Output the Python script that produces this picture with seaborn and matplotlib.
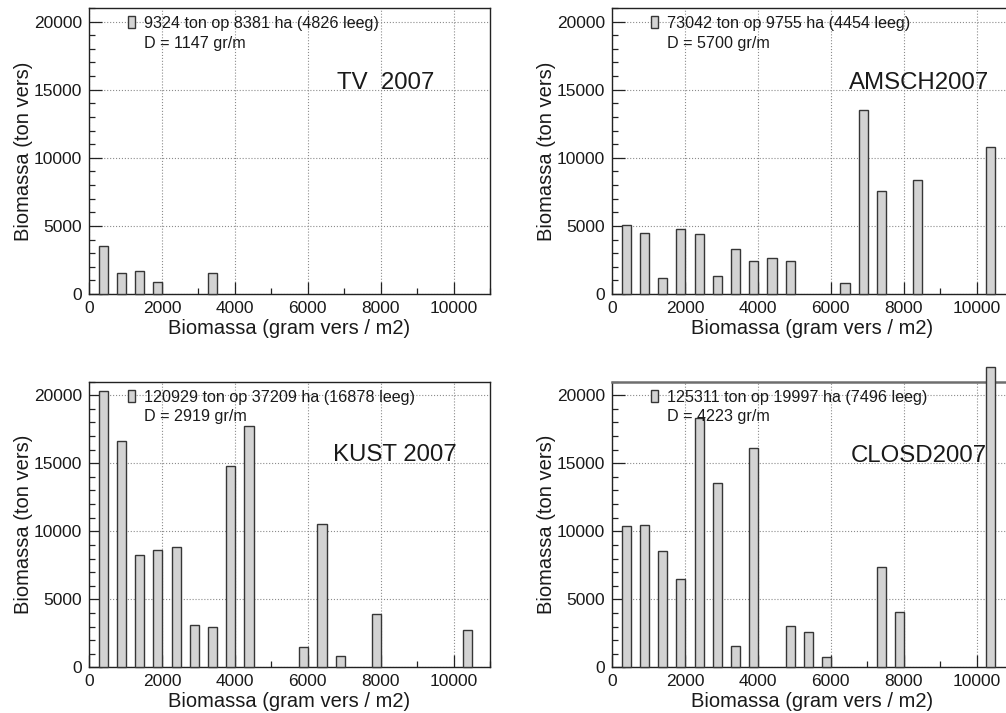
import matplotlib
matplotlib.use('Agg')
import matplotlib.pyplot as plt
import seaborn as sns
import pandas as pd
from matplotlib.patches import Patch
from matplotlib.ticker import MultipleLocator

sns.set_theme(style='ticks')
plt.rcParams['font.family'] = ['Liberation Sans', 'DejaVu Sans']

panel_names = ["TV  2007", "AMSCH2007", "KUST 2007", "CLOSD2007"]
legend_line1 = ["9324 ton op 8381 ha (4826 leeg)",
                "73042 ton op 9755 ha (4454 leeg)",
                "120929 ton op 37209 ha (16878 leeg)",
                "125311 ton op 19997 ha (7496 leeg)"]
legend_line2 = ["D = 1147 gr/m", "D = 5700 gr/m", "D = 2919 gr/m", "D = 4223 gr/m"]

tv_x = [390, 890, 1390, 1890, 3390]
tv_y = [3550, 1520, 1720, 860, 1570]
amsch_x = [390, 890, 1390, 1890, 2390, 2890, 3390, 3890, 4390, 4890, 6390, 6890, 7390, 8390, 10390]
amsch_y = [5060, 4490, 1150, 4760, 4370, 1300, 3290, 2430, 2630, 2410, 790, 13520, 7530, 8390, 10800]
kust_x = [390, 890, 1390, 1890, 2390, 2890, 3390, 3890, 4390, 5890, 6390, 6890, 7890, 10390]
kust_y = [20340, 16610, 8270, 8640, 8860, 3120, 2990, 14820, 17720, 1470, 10530, 860, 3950, 2770]
closd_x = [390, 890, 1390, 1890, 2390, 2890, 3390, 3890, 4890, 5390, 5890, 7390, 7890, 10390]
closd_y = [10400, 10480, 8560, 6500, 18330, 13520, 1570, 16120, 3070, 2580, 740, 7360, 4100, 22100]

x_ticks = [0, 2000, 4000, 6000, 8000, 10000]
y_ticks = [0, 5000, 10000, 15000, 20000]

series = [(tv_x, tv_y), (amsch_x, amsch_y), (kust_x, kust_y), (closd_x, closd_y)]
label_pos = [(6800, 15500), (6500, 15500), (6700, 15580), (6560, 15560)]

W, H = 1006, 713
fig = plt.figure(figsize=(W / 100, H / 100), dpi=100)
fig.patch.set_facecolor('white')

positions = [
    [89 / W, (H - 294) / H, 401 / W, 286 / H],
    [612 / W, (H - 294) / H, 401 / W, 286 / H],
    [89 / W, (H - 667.3) / H, 401 / W, 285.6 / H],
    [612 / W, (H - 667.3) / H, 401 / W, 285.6 / H],
]

bar_fc = '#d3d3d3'
bar_ec = '#363636'
txt = '#1a1a1a'

for i, ((xs, ys), pos) in enumerate(zip(series, positions)):
    ax = fig.add_axes(pos)
    ax.set_facecolor('white')
    df = pd.DataFrame({'x': xs, 'y': ys})
    sns.barplot(data=df, x='x', y='y', native_scale=True, width=0.5,
                color=bar_fc, saturation=1, edgecolor=bar_ec, linewidth=1.0,
                errorbar=None, ax=ax, zorder=3)
    for p in ax.patches:
        p.set_clip_on(False)
    ax.set_xlim(0, 11000)
    ax.set_ylim(0, 21000)
    ax.set_xticks(x_ticks)
    ax.set_yticks(y_ticks)
    ax.set_xticklabels([str(v) for v in x_ticks])
    ax.set_yticklabels([str(v) for v in y_ticks])
    ax.xaxis.set_minor_locator(MultipleLocator(1000))
    ax.yaxis.set_minor_locator(MultipleLocator(1000))
    ax.tick_params(axis='both', which='major', direction='in', length=9, width=0.9,
                   color='#222222', labelsize=12.5, labelcolor=txt, pad=5,
                   top=False, right=False)
    ax.tick_params(axis='both', which='minor', direction='in', length=4.5, width=0.9,
                   color='#222222', top=False, right=False)
    ax.grid(True, which='major', linestyle=':', color='#8c8c8c', linewidth=0.8)
    ax.set_axisbelow(True)
    for s in ax.spines.values():
        s.set_color('#222222')
        s.set_linewidth(1.0)
        s.set_visible(True)
    if i == 3:
        ax.spines['top'].set_color('#6e6e6e')
        ax.spines['top'].set_linewidth(1.8)
    ax.set_xlabel('Biomassa (gram vers / m2)', fontsize=14.5, color=txt, labelpad=2)
    ax.set_ylabel('Biomassa (ton vers)', fontsize=14.5, color=txt, labelpad=0.8)

    handles = [Patch(facecolor=bar_fc, edgecolor=bar_ec, linewidth=1.0),
               Patch(visible=False)]
    leg = ax.legend(handles=handles, labels=[legend_line1[i], legend_line2[i]],
                    loc='upper left', bbox_to_anchor=(0.098, 0.972), frameon=False,
                    fontsize=11.6, handlelength=0.4, handleheight=0.75,
                    handletextpad=0.6, labelspacing=0.28, borderpad=0,
                    borderaxespad=0)
    for t in leg.get_texts():
        t.set_color(txt)
    leg.set_zorder(5)

    lx, ly = label_pos[i]
    ax.text(lx, ly, panel_names[i], fontsize=17.3, color=txt, va='center', ha='left',
            zorder=6)

fig.savefig('out.png', dpi=100)
